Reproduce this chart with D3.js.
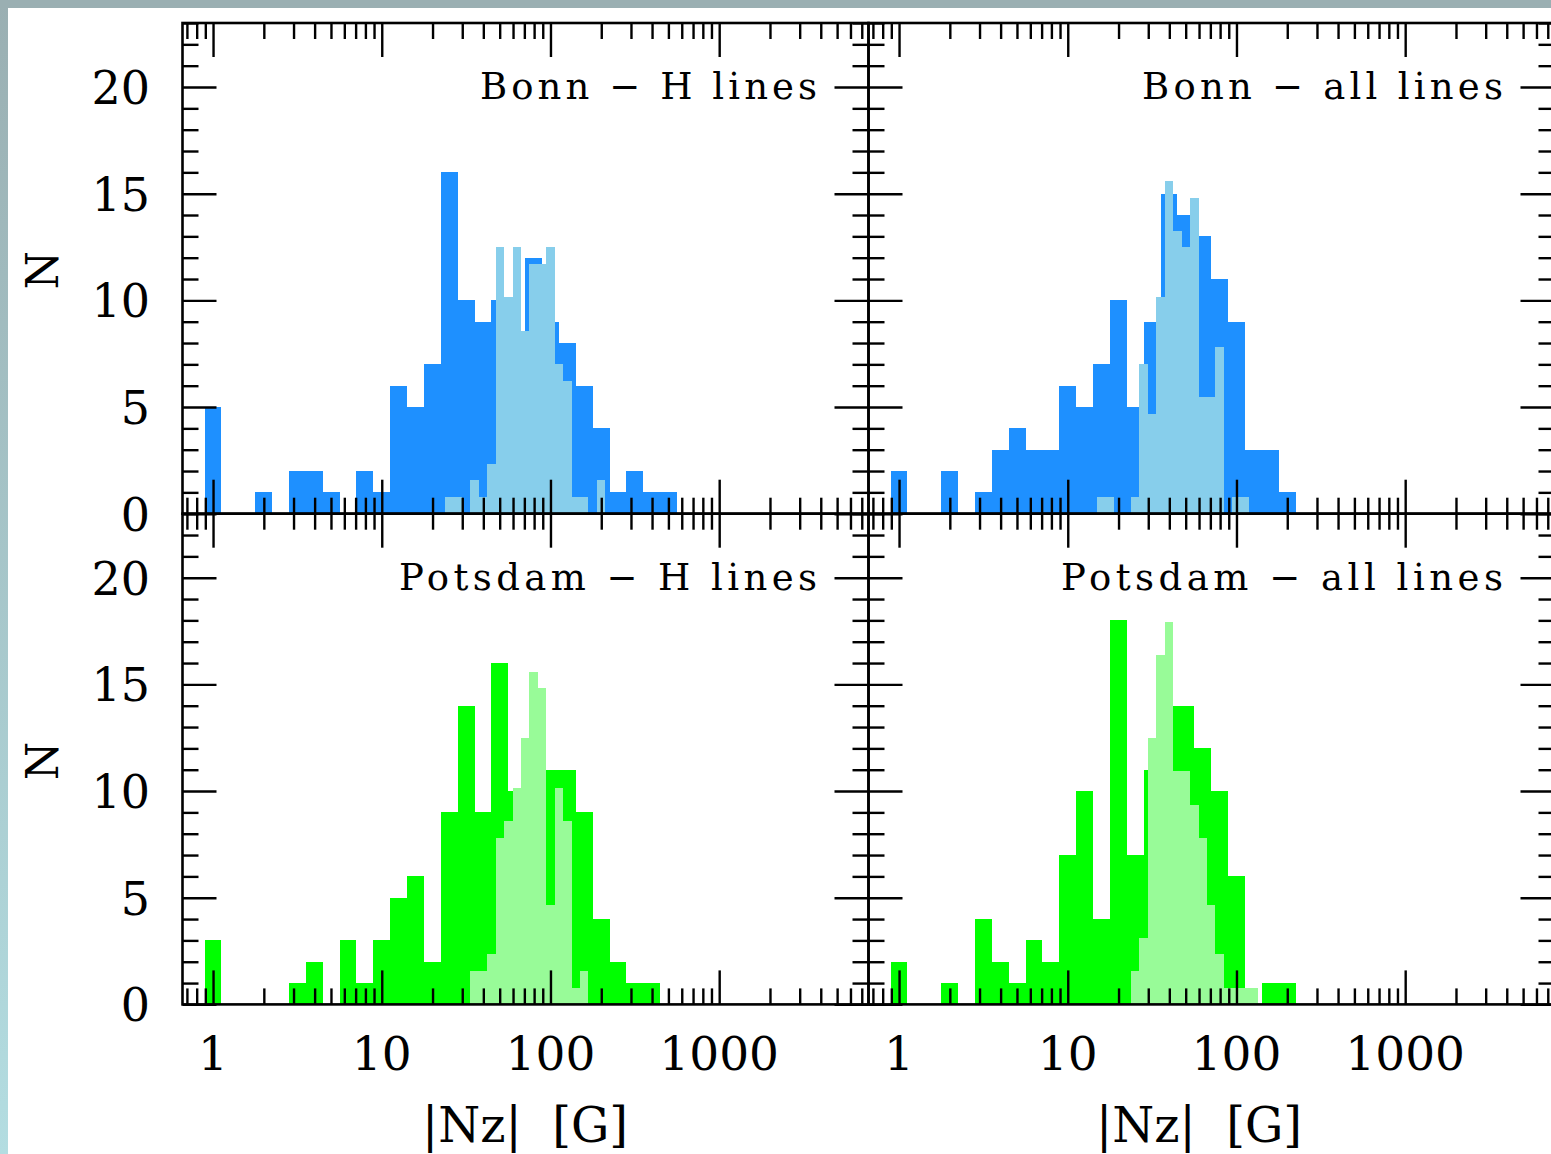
<!DOCTYPE html>
<html>
<head>
<meta charset="utf-8">
<script src="https://cdn.jsdelivr.net/npm/d3@7"></script>
<style>
    body { margin: 0; background: white; }
    svg { display: block; }
    .lbl { font-family: "DejaVu Serif", serif; fill: black; }
</style>
</head>
<body>
<div id="chart"></div>
<script>
// bin centres (log10 |Nz|), 0.1 dex bins for the full sample
var darkCenters = [0.0, 0.1, 0.2, 0.3, 0.4, 0.5, 0.6, 0.7, 0.8, 0.9,
                   1.0, 1.1, 1.2, 1.3, 1.4, 1.5, 1.6, 1.7, 1.8, 1.9,
                   2.0, 2.1, 2.2, 2.3, 2.4, 2.5, 2.6, 2.7];
// 0.05 dex bins for the overlaid (scaled) histogram
var lightCenters = [1.20, 1.25, 1.30, 1.35, 1.40, 1.45, 1.50, 1.55, 1.60, 1.65,
                    1.70, 1.75, 1.80, 1.85, 1.90, 1.95, 2.00, 2.05, 2.10, 2.15,
                    2.20, 2.25, 2.30];
var lightScale = 0.78;

var bonnHDark    = [5,0,0,1,0,2,2,1,0,2,1,6,5,7,16,10,9,10,8,12,9,8,6,4,1,2,1,1];
var bonnAllDark  = [2,0,0,2,0,1,3,4,3,3,6,5,7,10,5,9,15,14,13,11,9,3,3,1,0,0,0,0];
var potsHDark    = [3,0,0,0,0,1,2,0,3,1,3,5,6,2,9,14,9,16,10,10,11,11,9,4,2,1,1,0];
var potsAllDark  = [2,0,0,1,0,4,2,1,3,2,7,10,4,18,7,11,14,14,12,10,6,0,1,1,0,0,0,0];

var bonnHLight   = [0,0,0,0,1,1,0,2,1,3,16,13,16,11,15,15,16,9,8,1,1,0,2];
var bonnAllLight = [1,1,0,0,1,9,6,13,20,17,16,19,7,7,10,0,1,1,0,0,0,0,0];
var potsHLight   = [0,0,0,0,0,0,0,2,2,3,10,11,13,16,20,19,6,13,11,1,2,0,0];
var potsAllLight = [0,0,0,0,2,4,16,21,23,14,14,12,10,6,3,1,1,1,1,0,0,0,0];

var titles = ["Bonn \u2212 H lines", "Bonn \u2212 all lines",
              "Potsdam \u2212 H lines", "Potsdam \u2212 all lines"];
var yTickLabels = [0, 5, 10, 15, 20];
var xTickLabels = [1, 10, 100, 1000];

var width = 1551, height = 1154;
var panelW = 686, panelH = 490.7;
var lefts = [182.5, 868.5], tops = [23, 513.7];

var blue = {dark: "#1e90ff", light: "#87ceeb"},
    green = {dark: "#00ff00", light: "#98fb98"};

var panels = [
    {col: 0, row: 0, dark: bonnHDark, light: bonnHLight, colors: blue, title: titles[0], tw: 337},
    {col: 1, row: 0, dark: bonnAllDark, light: bonnAllLight, colors: blue, title: titles[1], tw: 361},
    {col: 0, row: 1, dark: potsHDark, light: potsHLight, colors: green, title: titles[2], tw: 418},
    {col: 1, row: 1, dark: potsAllDark, light: potsAllLight, colors: green, title: titles[3], tw: 442}
];

var svg = d3.select("#chart").append("svg")
    .attr("width", width)
    .attr("height", height);

// outer frame strips
var grad = svg.append("defs").append("linearGradient")
    .attr("id", "strip").attr("x1", 0).attr("y1", 0).attr("x2", 0).attr("y2", 1);
grad.append("stop").attr("offset", "0%").attr("stop-color", "#9aafb2");
grad.append("stop").attr("offset", "100%").attr("stop-color", "#b3dde1");
svg.append("rect").attr("width", width).attr("height", height).attr("fill", "white");
svg.append("rect").attr("width", 8).attr("height", height).attr("fill", "url(#strip)");
svg.append("rect").attr("width", width).attr("height", 8).attr("fill", "#9aafb2");

// minor/major tick values
var xMajor = [1, 10, 100, 1000],
    xMinor = [];
[0.1, 1, 10, 100, 1000].forEach(function (d) {
    for (var m = 2; m <= 9; m++) {
        var v = d * m;
        if (v >= 0.7 && v <= 7000) xMinor.push(v);
    }
});
var yMajor = [0, 5, 10, 15, 20],
    yMinor = d3.range(0, 24).filter(function (d) { return d % 5 != 0; });

function noDomain(g) {
    g.select(".domain").remove();
    g.selectAll("line").attr("stroke", "black").attr("stroke-width", 2.4);
}

panels.forEach(function (p) {
    var x0 = lefts[p.col], y0 = tops[p.row];
    var x = d3.scaleLog()
        .domain([Math.pow(10, -0.181), Math.pow(10, 3.885)])
        .range([x0, x0 + panelW]);
    var y = d3.scaleLinear()
        .domain([0, 23])
        .range([y0 + panelH, y0]);

    var g = svg.append("g");

    // full sample histogram
    g.selectAll("rect.dark")
        .data(darkCenters.map(function (c, i) { return {c: c, n: p.dark[i]}; })
                         .filter(function (d) { return d.n > 0; }))
        .enter().append("rect")
        .attr("class", "dark")
        .attr("x", function (d) { return x(Math.pow(10, d.c - 0.05)); })
        .attr("width", function (d) { return x(Math.pow(10, d.c + 0.05)) - x(Math.pow(10, d.c - 0.05)); })
        .attr("y", function (d) { return y(d.n); })
        .attr("height", function (d) { return y(0) - y(d.n); })
        .attr("fill", p.colors.dark)
        .attr("shape-rendering", "crispEdges");

    // scaled overlay histogram
    g.selectAll("rect.light")
        .data(lightCenters.map(function (c, i) { return {c: c, n: p.light[i] * lightScale}; })
                          .filter(function (d) { return d.n > 0; }))
        .enter().append("rect")
        .attr("class", "light")
        .attr("x", function (d) { return x(Math.pow(10, d.c - 0.025)); })
        .attr("width", function (d) { return x(Math.pow(10, d.c + 0.025)) - x(Math.pow(10, d.c - 0.025)); })
        .attr("y", function (d) { return y(d.n); })
        .attr("height", function (d) { return y(0) - y(d.n); })
        .attr("fill", p.colors.light)
        .attr("shape-rendering", "crispEdges");

    // ticks on all four sides, pointing inwards
    g.append("g").attr("transform", "translate(0," + y(0) + ")")
        .call(d3.axisBottom(x).tickValues(xMinor).tickSize(-16).tickFormat("")).call(noDomain);
    g.append("g").attr("transform", "translate(0," + y(0) + ")")
        .call(d3.axisBottom(x).tickValues(xMajor).tickSize(-34).tickFormat("")).call(noDomain);
    g.append("g").attr("transform", "translate(0," + y0 + ")")
        .call(d3.axisTop(x).tickValues(xMinor).tickSize(-16).tickFormat("")).call(noDomain);
    g.append("g").attr("transform", "translate(0," + y0 + ")")
        .call(d3.axisTop(x).tickValues(xMajor).tickSize(-34).tickFormat("")).call(noDomain);
    g.append("g").attr("transform", "translate(" + x0 + ",0)")
        .call(d3.axisLeft(y).tickValues(yMinor).tickSize(-16).tickFormat("")).call(noDomain);
    g.append("g").attr("transform", "translate(" + x0 + ",0)")
        .call(d3.axisLeft(y).tickValues(yMajor).tickSize(-34).tickFormat("")).call(noDomain);
    g.append("g").attr("transform", "translate(" + (x0 + panelW) + ",0)")
        .call(d3.axisRight(y).tickValues(yMinor).tickSize(-16).tickFormat("")).call(noDomain);
    g.append("g").attr("transform", "translate(" + (x0 + panelW) + ",0)")
        .call(d3.axisRight(y).tickValues(yMajor).tickSize(-34).tickFormat("")).call(noDomain);

    // frame
    g.append("rect")
        .attr("x", x0).attr("y", y0)
        .attr("width", panelW).attr("height", panelH)
        .attr("fill", "none").attr("stroke", "black").attr("stroke-width", 2.6);

    // panel title
    g.append("text")
        .attr("class", "lbl")
        .attr("x", x0 + 634.5)
        .attr("y", y(20) + 12)
        .attr("text-anchor", "end")
        .attr("font-size", 37)
        .attr("textLength", p.tw)
        .attr("lengthAdjust", "spacing")
        .text(p.title);

    // y labels on the left column
    if (p.col == 0) {
        g.selectAll("text.ytick")
            .data(yTickLabels)
            .enter().append("text")
            .attr("class", "lbl ytick")
            .attr("x", 150)
            .attr("y", function (d) { return y(d) + 17; })
            .attr("text-anchor", "end")
            .attr("font-size", 46)
            .text(function (d) { return d; });

        g.append("text")
            .attr("class", "lbl")
            .attr("transform", "translate(58," + (y0 + panelH / 2 + 2) + ") rotate(-90)")
            .attr("text-anchor", "middle")
            .attr("font-size", 44)
            .text("N");
    }

    // x labels on the bottom row
    if (p.row == 1) {
        g.selectAll("text.xtick")
            .data(xTickLabels)
            .enter().append("text")
            .attr("class", "lbl xtick")
            .attr("x", function (d) { return x(d); })
            .attr("y", 1070)
            .attr("text-anchor", "middle")
            .attr("font-size", 47)
            .text(function (d) { return d; });

        g.append("text")
            .attr("class", "lbl")
            .attr("x", p.col == 0 ? 525 : 1199)
            .attr("y", 1142)
            .attr("text-anchor", "middle")
            .attr("font-size", 48)
            .attr("xml:space", "preserve")
            .text("|Nz|  [G]");
    }
});
</script>
</body>
</html>
